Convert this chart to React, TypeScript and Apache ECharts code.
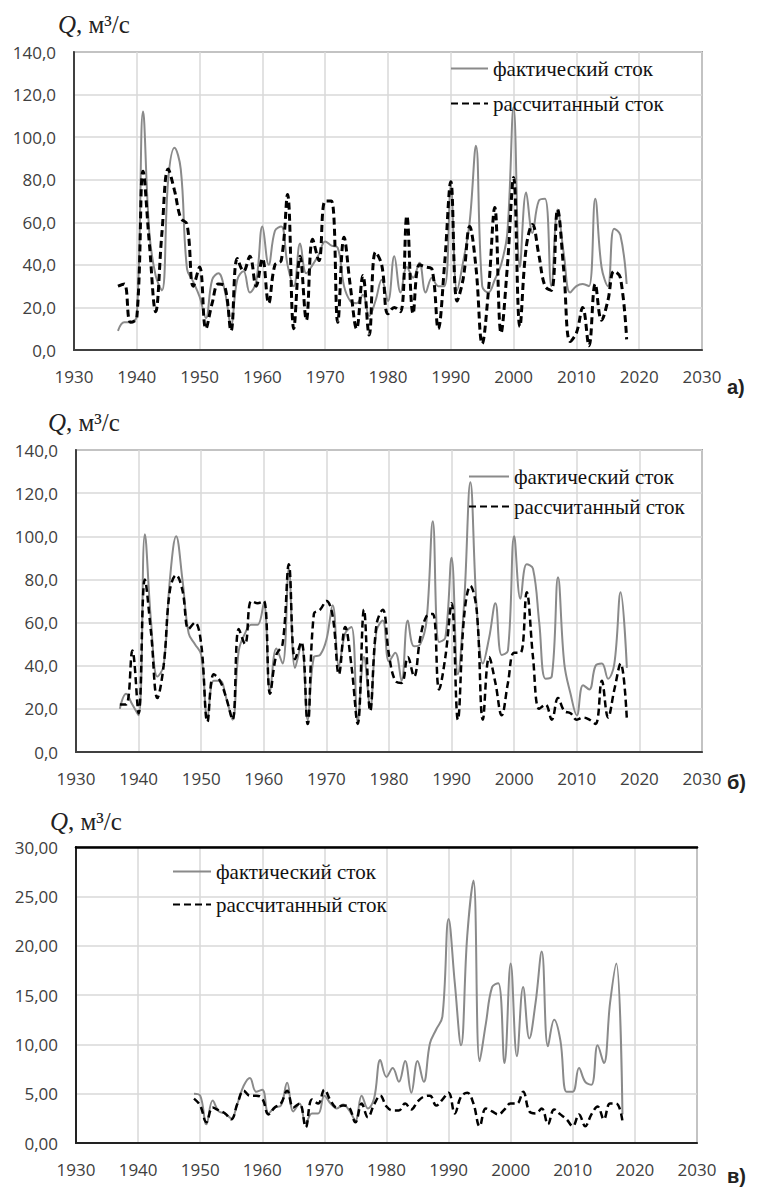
import React, { useEffect, useRef } from "react";
import * as echarts from "echarts";

// ---------- data ----------
const yearsAB: number[] = Array.from({ length: 82 }, (_, i) => 1937 + i);
const yearsC: number[] = Array.from({ length: 70 }, (_, i) => 1949 + i);

const nameActual = "фактический сток";
const nameCalc = "рассчитанный сток";

// panel а)
const actualA = [9, 13, 13, 16, 112, 55, 35, 28, 80, 95, 85, 38, 32, 25, 15, 33, 36, 28, 12, 33, 37, 27, 32, 58, 40, 56, 58, 40, 30, 50, 36, 40, 45, 51, 49, 48, 30, 23, 22, 26, 16, 23, 33, 23, 44, 27, 39, 34, 41, 27, 34, 30, 30, 77, 28, 42, 60, 96, 30, 27, 33, 40, 55, 114, 39, 74, 55, 70, 71, 30, 66, 45, 27, 30, 31, 30, 71, 39, 30, 57, 54, 31];
const calcA = [30, 31, 13, 15, 84, 50, 18, 55, 85, 75, 62, 59, 30, 39, 10, 22, 31, 30, 9, 43, 37, 44, 30, 43, 22, 40, 42, 73, 10, 44, 14, 52, 42, 70, 70, 13, 53, 30, 10, 35, 7, 46, 40, 17, 20, 18, 63, 17, 40, 39, 38, 10, 40, 79, 23, 34, 58, 39, 3, 28, 67, 8, 39, 81, 11, 48, 59, 45, 30, 28, 66, 37, 4, 8, 20, 2, 31, 14, 23, 37, 34, 5];

// panel б)
const actualB = [20, 27, 22, 17, 101, 60, 35, 40, 80, 100, 80, 55, 50, 45, 16, 33, 33, 25, 15, 47, 55, 59, 59, 69, 28, 48, 41, 85, 39, 50, 15, 44, 45, 52, 68, 40, 55, 58, 14, 44, 21, 56, 61, 42, 46, 33, 61, 49, 50, 61, 107, 51, 53, 90, 36, 69, 125, 67, 41, 53, 69, 45, 47, 100, 71, 87, 85, 60, 34, 35, 81, 41, 27, 17, 31, 29, 40, 41, 34, 41, 74, 39];
const calcB = [22, 22, 47, 18, 80, 55, 25, 40, 75, 82, 75, 57, 60, 50, 14, 36, 33, 25, 15, 57, 50, 70, 69, 70, 27, 45, 50, 87, 43, 51, 13, 64, 66, 70, 63, 36, 58, 40, 13, 66, 19, 59, 66, 45, 33, 32, 44, 35, 53, 63, 64, 29, 44, 69, 15, 63, 77, 66, 15, 44, 32, 17, 32, 46, 46, 74, 44, 20, 22, 15, 25, 19, 18, 15, 16, 15, 13, 33, 16, 29, 41, 15];

// panel в)
const actualC = [5.0, 4.8, 1.9, 4.3, 3.2, 3.0, 2.5, 4.0, 5.8, 6.6, 5.2, 5.4, 3.0, 3.6, 3.8, 6.1, 3.2, 4.0, 2.0, 3.0, 3.0, 4.8, 4.0, 3.5, 3.9, 3.3, 2.3, 4.8, 3.5, 4.5, 8.4, 6.7, 7.6, 6.2, 8.3, 5.1, 8.3, 6.2, 10.1, 11.5, 12.8, 22.7, 16.2, 9.9, 21.0, 26.6, 8.3, 12.1, 15.8, 16.2, 8.1, 18.2, 8.8, 15.8, 10.6, 14.2, 19.4, 9.8, 12.5, 10.4, 5.2, 5.2, 7.6, 6.2, 5.9, 9.9, 8.1, 14.2, 18.2, 2.9];
const calcC = [4.5, 3.8, 2.1, 3.6, 3.3, 3.0, 2.4, 4.0, 5.3, 4.8, 4.8, 4.5, 2.9, 3.6, 4.0, 5.3, 3.6, 4.0, 1.6, 4.4, 4.0, 5.4, 4.3, 3.6, 3.8, 3.6, 2.1, 4.0, 2.6, 3.9, 4.8, 3.7, 3.3, 3.3, 4.0, 3.4, 4.2, 4.7, 4.8, 3.8, 4.4, 5.1, 3.0, 4.7, 5.1, 4.0, 1.7, 3.5, 3.2, 2.9, 3.4, 4.0, 4.0, 5.2, 3.2, 3.0, 3.5, 1.9, 3.4, 2.9, 2.4, 1.7, 2.9, 1.7, 2.9, 3.7, 2.4, 4.0, 4.0, 2.2];

const yMax = [140, 140, 30];
const yStep = [20, 20, 5];
const yDecimals = [1, 1, 2];
const panelLabels = ["а)", "б)", "в)"];
const axisTitle = "м³/с";

// ---------- layout ----------
const grids = [
  { left: 74, top: 52, width: 628, height: 298 },
  { left: 76, top: 450, width: 626, height: 302 },
  { left: 76, top: 847, width: 621, height: 296 },
];
const legendPos = [
  { left: 450, top: 57, itemWidth: 37, itemGap: 12 },
  { left: 468, top: 465, itemWidth: 40, itemGap: 7 },
  { left: 172, top: 860, itemWidth: 38, itemGap: 10 },
];
const titlePos = [
  { left: 58, top: 10 },
  { left: 48, top: 408 },
  { left: 50, top: 807 },
];
const labelPos = [
  { x: 727, y: 387 },
  { x: 727, y: 782 },
  { x: 727, y: 1176 },
];

const pair = (years: number[], vals: number[]) => years.map((y, i) => [y, vals[i]]);

export default function App() {
  const ref = useRef<HTMLDivElement>(null);
  useEffect(() => {
    if (!ref.current) return;
    const chart = echarts.init(ref.current, null, { renderer: "svg" });
    const labelFont = { fontFamily: "Open Sans", fontSize: 17, color: "#404040" };
    const panels = [
      { years: yearsAB, act: actualA, calc: calcA, dashW: 3 },
      { years: yearsAB, act: actualB, calc: calcB, dashW: 2.5 },
      { years: yearsC, act: actualC, calc: calcC, dashW: 2.5 },
    ];
    const xAxis: any[] = grids.map((_, i) => ({
      gridIndex: i,
      type: "value",
      min: 1930,
      max: 2030,
      interval: 10,
      axisLine: { show: true, lineStyle: { color: i === 2 ? "#222" : "#404040", width: 2 } },
      axisTick: { show: false },
      axisLabel: { ...labelFont, margin: 18, formatter: (v: number) => String(v) },
      splitLine: { show: true, lineStyle: { color: "#d9d9d9", width: 1.5 } },
    }));
    xAxis.push({
      gridIndex: 2,
      type: "value",
      position: "top",
      min: 1930,
      max: 2030,
      interval: 10,
      axisLine: { show: true, lineStyle: { color: "#000", width: 2.5 } },
      axisTick: { show: false },
      axisLabel: { show: false },
      splitLine: { show: false },
    });
    const yAxis = grids.map((_, i) => ({
      gridIndex: i,
      type: "value",
      min: 0,
      max: yMax[i],
      interval: yStep[i],
      axisLine: { show: true, lineStyle: { color: i === 2 ? "#222" : "#404040", width: 2 } },
      axisTick: { show: false },
      axisLabel: {
        ...labelFont,
        margin: 18,
        formatter: (v: number) => v.toFixed(yDecimals[i]).replace(".", ","),
      },
      splitLine: { show: true, lineStyle: { color: "#d9d9d9", width: 1.5 } },
    }));
    const series: any[] = [];
    panels.forEach((p, i) => {
      series.push({
        name: nameActual,
        type: "line",
        xAxisIndex: i,
        yAxisIndex: i,
        data: pair(p.years, p.act),
        smooth: 0.4,
        symbol: "none",
        lineStyle: { color: "#8a8a8a", width: 2 },
        itemStyle: { color: "#8a8a8a" },
      });
      series.push({
        name: nameCalc,
        type: "line",
        xAxisIndex: i,
        yAxisIndex: i,
        data: pair(p.years, p.calc),
        smooth: 0.4,
        symbol: "none",
        lineStyle: { color: "#000", width: p.dashW, type: [7, 4] },
        itemStyle: { color: "#000" },
      });
    });
    const option: any = {
      animation: false,
      grid: grids.map((g) => ({
        ...g,
        show: true,
        borderColor: "#595959",
        borderWidth: 1.5,
        backgroundColor: "transparent",
      })),
      xAxis,
      yAxis,
      legend: legendPos.map((l) => ({
        orient: "vertical",
        left: l.left,
        top: l.top,
        padding: 0,
        itemWidth: l.itemWidth,
        itemHeight: 14,
        itemGap: l.itemGap,
        data: [nameActual, nameCalc],
        itemStyle: { color: "transparent", borderWidth: 0, opacity: 0 },
        textStyle: { fontFamily: "Liberation Serif", fontSize: 21, color: "#111", lineHeight: 23 },
      })),
      title: titlePos.map((t) => ({
        left: t.left,
        top: t.top,
        padding: 0,
        text: "{q|Q}{n|, " + axisTitle + "}",
        textStyle: {
          fontWeight: "normal",
          rich: {
            q: { fontFamily: "Liberation Serif", fontStyle: "italic", fontWeight: "normal", fontSize: 25, color: "#222", lineHeight: 29 },
            n: { fontFamily: "Liberation Serif", fontWeight: "normal", fontSize: 25, color: "#222", lineHeight: 29 },
          },
        },
      })),
      graphic: labelPos.map((p, i) => ({
        type: "text",
        x: p.x,
        y: p.y,
        style: {
          text: panelLabels[i],
          font: "bold 20px 'Liberation Sans'",
          fill: "#222",
          verticalAlign: "middle",
        },
      })),
      series,
    };
    chart.setOption(option);
    return () => chart.dispose();
  }, []);
  return (
    <div
      ref={ref}
      style={{ position: "absolute", left: 0, top: 0, width: 760, height: 1190, background: "#fff" }}
    />
  );
}
